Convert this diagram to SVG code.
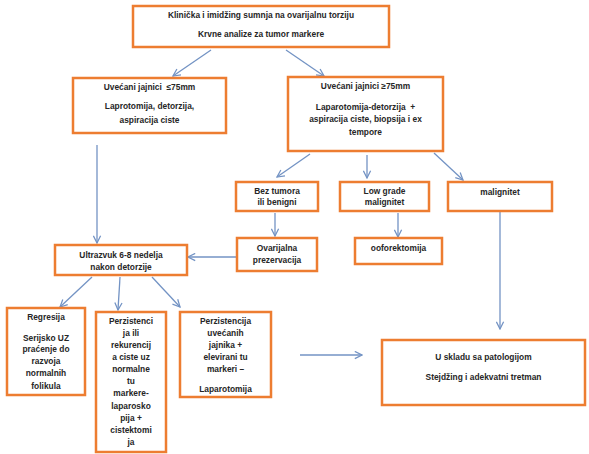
<svg xmlns="http://www.w3.org/2000/svg" width="589" height="454" viewBox="0 0 589 454">
<defs>
<style>
.box{fill:#fff;stroke:#ED7D31;stroke-width:2.5}
.t{font-family:"Liberation Sans",Arial,sans-serif;font-size:8.4px;font-weight:bold;fill:#262626;text-anchor:middle;white-space:pre}
.c{stroke:#7393C4;stroke-width:1.3;fill:none;marker-end:url(#a)}
</style>
<marker id="a" viewBox="0 0 10 10" refX="9" refY="5" markerWidth="9" markerHeight="9" markerUnits="userSpaceOnUse" orient="auto">
<path d="M1,1 L9,5 L1,9" fill="none" stroke="#7393C4" stroke-width="1.4"/>
</marker>
</defs>
<rect width="589" height="454" fill="#fff"/>
<g id="connectors">
<line class="c" x1="211" y1="50" x2="173" y2="76"/>
<line class="c" x1="286" y1="50" x2="324" y2="76"/>
<line class="c" x1="97" y1="145" x2="97" y2="243"/>
<line class="c" x1="310" y1="154" x2="277" y2="177"/>
<line class="c" x1="367" y1="155" x2="367" y2="178"/>
<line class="c" x1="434" y1="153" x2="463" y2="180"/>
<line class="c" x1="275" y1="213" x2="275" y2="236"/>
<line class="c" x1="398" y1="213" x2="398" y2="237"/>
<line class="c" x1="500" y1="212" x2="500" y2="329"/>
<line class="c" x1="237" y1="257" x2="188" y2="257"/>
<line class="c" x1="92" y1="277" x2="60" y2="307"/>
<line class="c" x1="120" y1="277" x2="118" y2="310"/>
<line class="c" x1="152" y1="277" x2="180" y2="307"/>
<line class="c" x1="300" y1="355" x2="362" y2="355"/>
</g>
<g id="n1"><rect class="box" x="133" y="6" width="256" height="41"/>
<text class="t" x="261" y="18">Klinička i imidžing sumnja na ovarijalnu torziju</text>
<text class="t" x="261" y="37">Krvne analize za tumor markere</text></g>
<g id="n2"><rect class="box" x="73" y="78" width="153" height="55"/>
<text class="t" x="149.5" y="90">Uvećani jajnici  ≤75mm</text>
<text class="t" x="149.5" y="109">Laprotomija, detorzija,</text>
<text class="t" x="149.5" y="123">aspiracija ciste</text></g>
<g id="n3"><rect class="box" x="288" y="77" width="155" height="74"/>
<text class="t" x="365.5" y="89">Uvećani jajnici ≥75mm</text>
<text class="t" x="365.5" y="110">Laparotomija-detorzija  +</text>
<text class="t" x="365.5" y="122">aspiracija ciste, biopsija i ex</text>
<text class="t" x="365.5" y="135">tempore</text></g>
<g id="n4"><rect class="box" x="236" y="182" width="82" height="29"/>
<text class="t" x="277" y="194">Bez tumora</text>
<text class="t" x="277" y="205">ili benigni</text></g>
<g id="n5"><rect class="box" x="340" y="182" width="89" height="29"/>
<text class="t" x="384.5" y="194">Low grade</text>
<text class="t" x="384.5" y="205">malignitet</text></g>
<g id="n6"><rect class="box" x="448" y="182" width="104" height="29"/>
<text class="t" x="500" y="195">malignitet</text></g>
<g id="n7"><rect class="box" x="237" y="238" width="80" height="33"/>
<text class="t" x="277" y="251">Ovarijalna</text>
<text class="t" x="277" y="263">prezervacija</text></g>
<g id="n8"><rect class="box" x="355" y="238" width="87" height="26"/>
<text class="t" x="398.5" y="251">ooforektomija</text></g>
<g id="n9"><rect class="box" x="55" y="245" width="132" height="30"/>
<text class="t" x="121" y="258">Ultrazvuk 6-8 nedelja</text>
<text class="t" x="121" y="270">nakon detorzije</text></g>
<g id="n10"><rect class="box" x="7" y="308" width="78" height="87"/>
<text class="t" x="46" y="320">Regresija</text>
<text class="t" x="46" y="341">Serijsko UZ</text>
<text class="t" x="46" y="352">praćenje do</text>
<text class="t" x="46" y="364">razvoja</text>
<text class="t" x="46" y="376">normalnih</text>
<text class="t" x="46" y="389">folikula</text></g>
<g id="n11"><rect class="box" x="96" y="312" width="70" height="140"/>
<text class="t" x="131" y="324">Perzistenci</text>
<text class="t" x="131" y="336">ja ili</text>
<text class="t" x="131" y="348">rekurencij</text>
<text class="t" x="131" y="360">a ciste uz</text>
<text class="t" x="131" y="372">normalne</text>
<text class="t" x="131" y="384">tu</text>
<text class="t" x="131" y="396">markere-</text>
<text class="t" x="131" y="409">laparosko</text>
<text class="t" x="131" y="421">pija +</text>
<text class="t" x="131" y="433">cistektomi</text>
<text class="t" x="131" y="445">ja</text></g>
<g id="n12"><rect class="box" x="180" y="312" width="91" height="85"/>
<text class="t" x="225.5" y="324">Perzistencija</text>
<text class="t" x="225.5" y="336">uvećanih</text>
<text class="t" x="225.5" y="348">jajnika +</text>
<text class="t" x="225.5" y="360">elevirani tu</text>
<text class="t" x="225.5" y="372">markeri –</text>
<text class="t" x="225.5" y="392">Laparotomija</text></g>
<g id="n13"><rect class="box" x="382" y="340" width="203" height="65"/>
<text class="t" x="483.5" y="360">U skladu sa patologijom</text>
<text class="t" x="483.5" y="380">Stejdžing i adekvatni tretman</text></g>
</svg>
